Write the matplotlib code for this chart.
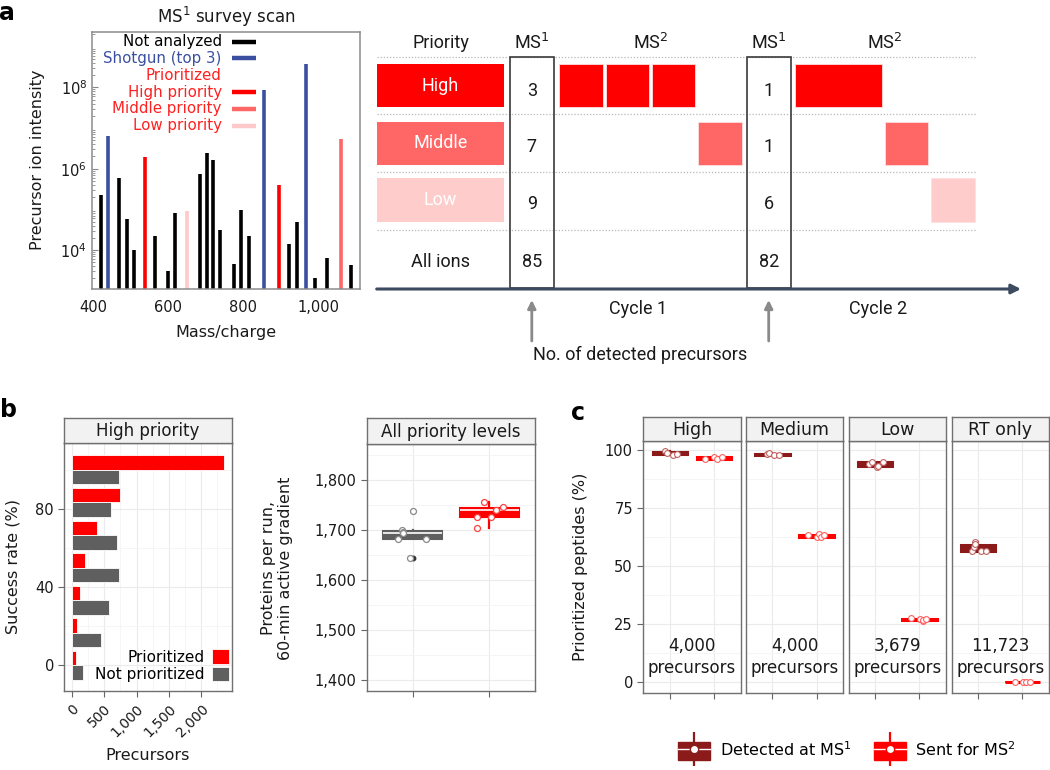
import numpy as np
import matplotlib
matplotlib.use('Agg')
import matplotlib.pyplot as plt
from matplotlib.patches import Rectangle, Patch
from matplotlib.lines import Line2D
from matplotlib.legend_handler import HandlerTuple
import matplotlib.ticker as mticker

plt.rcParams['font.family'] = ['DejaVu Sans']
plt.rcParams['mathtext.fontset'] = 'dejavusans'

# ---------------- data ----------------
# panel a (left): MS1 survey scan
ms1_mz = [420, 440, 470, 490, 510, 538, 566, 601, 618, 650, 685, 703, 721,
          738, 775, 795, 815, 857, 896, 923, 943, 967, 993, 1023, 1060, 1087]
ms1_intensity = [2.3e5, 6.5e6, 6e5, 5.8e4, 1e4, 1.9e6, 2.2e4, 3e3, 8e4, 9e4,
                 7.4e5, 2.4e6, 1.6e6, 3.1e4, 4.6e3, 9.6e4, 2.2e4, 8.8e7, 4e5,
                 1.4e4, 4.8e4, 3.8e8, 2e3, 6.5e3, 5.5e6, 4.3e3]
ms1_class = ['not', 'shotgun', 'not', 'not', 'not', 'high', 'not', 'not', 'not',
             'low', 'not', 'not', 'not', 'not', 'not', 'not', 'not', 'shotgun',
             'high', 'not', 'not', 'shotgun', 'not', 'not', 'middle', 'not']
ms1_legend_labels = ['Not analyzed', 'Shotgun (top 3)', 'Prioritized',
                     'High priority', 'Middle priority', 'Low priority']
ms1_legend_keys = ['not', 'shotgun', None, 'high', 'middle', 'low']
ms1_x_ticks = [400, 600, 800, 1000]
ms1_x_ticklabels = ['400', '600', '800', '1,000']

# panel a (right): acquisition schematic
priority_levels = ['High', 'Middle', 'Low']
cycle1_counts = [3, 7, 9, 85]
cycle2_counts = [1, 1, 6, 82]
cycle1_ms2 = [('High', 1), ('High', 1), ('High', 1), ('Middle', 1)]
cycle2_ms2 = [('High', 2), ('Middle', 1), ('Low', 1)]

# panel b (left): success rate
success_bins = [0, 16.67, 33.33, 50, 66.67, 83.33, 100]
prioritized_n = [62, 87, 129, 211, 391, 741, 2351]
not_prioritized_n = [179, 458, 581, 725, 694, 602, 725]
b_x_ticks = [0, 500, 1000, 1500, 2000]
b_x_ticklabels = ['0', '500', '1,000', '1,500', '2,000']

# panel b (right): proteins per run
proteins_not_prio = [1738, 1700, 1697, 1695, 1683, 1683, 1645]
proteins_not_prio_jit = [0.0, -0.145, -0.12, -0.13, -0.19, 0.18, -0.035]
proteins_prio = [1757, 1746, 1741, 1740, 1726, 1727, 1704]
proteins_prio_jit = [-0.07, 0.18, 0.09, 0.09, -0.16, 0.03, -0.155]
b2_y_ticks = [1400, 1500, 1600, 1700, 1800]
b2_y_ticklabels = ['1,400', '1,500', '1,600', '1,700', '1,800']

# panel c: prioritized peptides (%)
c_facets = ['High', 'Medium', 'Low', 'RT only']
c_counts = ['4,000', '4,000', '3,679', '11,723']
det_high = [99.4, 98.9, 98.0, 98.3]
det_high_jit = [-0.106, -0.06, 0.06, 0.167]
sent_high = [96.1, 97.1, 96.1, 97.2]
sent_high_jit = [-0.197, 0.0, 0.06, 0.167]
det_medium = [98.3, 98.9, 98.0, 98.0]
det_medium_jit = [-0.12, -0.076, 0.03, 0.15]
sent_medium = [63.2, 62.6, 63.8, 62.6, 63.2]
sent_medium_jit = [-0.19, 0.0, 0.06, 0.09, 0.17]
det_low = [94.0, 94.8, 92.5, 93.1, 94.8]
det_low_jit = [-0.136, -0.083, 0.045, 0.068, 0.167]
sent_low = [27.7, 27.3, 26.2, 26.7, 27.3]
sent_low_jit = [-0.197, 0.015, 0.076, 0.09, 0.15]
det_rt = [56.6, 58.3, 60.5, 59.4, 56.3, 56.6]
det_rt_jit = [-0.13, -0.106, -0.083, -0.068, 0.06, 0.174]
sent_rt = [0.1, 0.0, 0.2, 0.1]
sent_rt_jit = [-0.174, 0.015, 0.09, 0.167]
c_y_ticks = [0, 25, 50, 75, 100]

# ---------------- style ----------------
W, H = 1050, 770
fig = plt.figure(figsize=(10.5, 7.7), dpi=100)

COL = {'not': '#000000', 'shotgun': '#3a4f9f', 'high': '#ff0000',
       'middle': '#ff6666', 'low': '#ffc9c9'}
PRIO_COL = {'High': '#ff0000', 'Middle': '#ff6666', 'Low': '#ffcccc'}
RED = '#ff0000'
DARKRED = '#8b1a1a'
GREY = '#5f5f5f'
BORDER = '#707070'
TXT = '#1a1a1a'


def add_ax(x0, y0, x1, y1, **kw):
    return fig.add_axes([x0 / W, 1 - y1 / H, (x1 - x0) / W, (y1 - y0) / H], **kw)


def ftext(x, y, s, **kw):
    return fig.text(x / W, 1 - y / H, s, **kw)


def style_panel(ax):
    for s in ax.spines.values():
        s.set_color(BORDER)
        s.set_linewidth(1.0)
    ax.tick_params(which='major', direction='out', length=4, width=0.8,
                   color='#666666', labelsize=10, labelcolor=TXT)
    ax.tick_params(which='minor', length=0)
    ax.grid(True, which='major', color='#ebebeb', lw=0.8)
    ax.grid(True, which='minor', color='#f4f4f4', lw=0.6)
    ax.set_axisbelow(True)


def strip(x0, y0, x1, y1, label, size=12):
    s = add_ax(x0, y0, x1, y1)
    s.set_facecolor('#f2f2f2')
    s.set_xticks([])
    s.set_yticks([])
    for sp in s.spines.values():
        sp.set_color(BORDER)
        sp.set_linewidth(1.0)
    s.text(0.5, 0.47, label, ha='center', va='center', fontsize=size,
           color=TXT, transform=s.transAxes)
    return s


# ================= panel a left =================
ax = add_ax(92, 32, 360, 289)
ax.set_yscale('log')
ax.vlines(ms1_mz, 1, ms1_intensity, colors=[COL[c] for c in ms1_class], lw=2.6)
ax.set_xlim(397, 1112)
ax.set_ylim(1.1e3, 2.3e9)
ax.set_xticks(ms1_x_ticks)
ax.set_xticklabels(ms1_x_ticklabels)
ax.set_yticks([1e4, 1e6, 1e8])
ax.set_yticklabels(['$10^4$', '$10^6$', '$10^8$'])
ax.yaxis.set_minor_locator(mticker.LogLocator(base=10, subs=np.arange(2, 10), numticks=20))
ax.yaxis.set_minor_formatter(mticker.NullFormatter())
ax.tick_params(axis='y', which='major', direction='in', length=4, color='#888888',
               labelsize=10.5, labelcolor=TXT)
ax.tick_params(axis='y', which='minor', direction='in', length=2, color='#888888')
ax.tick_params(axis='x', which='major', direction='in', length=0, labelsize=10.5,
               labelcolor=TXT, pad=8)
for s in ax.spines.values():
    s.set_color('#8c8c8c')
    s.set_linewidth(1.1)
ax.text(0.5, 1 + 15 / 257, 'MS$^1$ survey scan', transform=ax.transAxes,
        ha='center', va='center', fontsize=12, color=TXT)
ftext(226, 333, 'Mass/charge', ha='center', va='center', fontsize=11.5, color=TXT)
ftext(38, 160, 'Precursor ion intensity', ha='center', va='center', rotation=90,
      fontsize=11.5, color=TXT)
# in-plot legend
for i, (lab, key) in enumerate(zip(ms1_legend_labels, ms1_legend_keys)):
    ypx = 41.7 + i * 16.8
    yf = (289 - ypx) / 257
    tcol = '#000000' if key == 'not' else ('#3a4f9f' if key == 'shotgun' else '#ff2020')
    ax.text((221.7 - 92) / 268, yf, lab, transform=ax.transAxes, ha='right',
            va='center', fontsize=10.8, color=tcol)
    if key is not None:
        ax.plot([(231.7 - 92) / 268, (256 - 92) / 268], [yf, yf], transform=ax.transAxes,
                color=COL[key], lw=3.2, solid_capstyle='butt')

# ================= panel a right (schematic) =================
sc = add_ax(360, 30, 1050, 370)
sc.set_xlim(360, 1050)
sc.set_ylim(370, 30)
sc.axis('off')
SF = 'Roboto'
row_top = [64.0, 121.7, 178.3]
row_h = 43.3
for y in [56.5, 114.3, 172.0, 229.5]:
    sc.plot([376.7, 976.7], [y, y], color='#b8b8b8', lw=0.9, ls=(0, (1, 1.5)))
for name, yt in zip(priority_levels, row_top):
    sc.add_patch(Rectangle((376.7, yt), 126.9, row_h, fc=PRIO_COL[name], ec='none'))
    sc.text(440.2, yt + row_h / 2, name, ha='center', va='center', color='white',
            fontsize=13, family=SF)
sc.text(440.6, 262, 'All ions', ha='center', va='center', fontsize=13, family=SF, color=TXT)
sc.text(440.6, 43, 'Priority', ha='center', va='center', fontsize=13, family=SF, color=TXT)
count_y = [90.7, 147.3, 204.0, 261.7]
box_w, gap = 43.4, 3.0
for col_x, counts, scans, ms2_x in [(509.8, cycle1_counts, cycle1_ms2, 559.1),
                                     (746.7, cycle2_counts, cycle2_ms2, 795.3)]:
    sc.add_patch(Rectangle((col_x, 56.7), 44, 231.6, fc='none', ec='#3a3a3a', lw=1.2, zorder=3))
    sc.text(col_x + 22, 43, 'MS$^1$', ha='center', va='center', fontsize=13, family=SF, color=TXT)
    for c, y in zip(counts, count_y):
        sc.text(col_x + 22, y, str(c), ha='center', va='center', fontsize=13,
                family=SF, color=TXT)
    x = ms2_x
    start = x
    for name, nslots in scans:
        r = priority_levels.index(name)
        w = box_w * nslots
        sc.add_patch(Rectangle((x, row_top[r]), w, row_h, fc=PRIO_COL[name],
                               ec='#ffdede', lw=0.6))
        x += w + gap
    sc.text((start + x - gap) / 2, 43, 'MS$^2$', ha='center', va='center', fontsize=13,
            family=SF, color=TXT)
sc.annotate('', xy=(1021, 289), xytext=(376.7, 289),
            arrowprops=dict(arrowstyle='-|>', color='#3d4b60', lw=2.2,
                            mutation_scale=14, shrinkA=0, shrinkB=0), zorder=4)
sc.text(638, 309.3, 'Cycle 1', ha='center', va='center', fontsize=13, family=SF, color=TXT)
sc.text(878.3, 309.3, 'Cycle 2', ha='center', va='center', fontsize=13, family=SF, color=TXT)
for xa in [531.8, 768.7]:
    sc.annotate('', xy=(xa, 300), xytext=(xa, 341),
                arrowprops=dict(arrowstyle='-|>', color='#8a8a8a', lw=2,
                                mutation_scale=12, shrinkA=0, shrinkB=0))
sc.text(639.7, 355, 'No. of detected precursors', ha='center', va='center',
        fontsize=13, family=SF, color=TXT)

# ================= panel b left =================
bx = add_ax(64.3, 443.3, 231.7, 691)
strip(64.3, 417.7, 231.7, 443.3, 'High priority', 12)
style_panel(bx)
yb = np.array(success_bins)
bh = 7.4
bx.barh(yb + bh / 2, prioritized_n, height=bh, color=RED, ec='white', lw=0.6,
        label='Prioritized')
bx.barh(yb - bh / 2, not_prioritized_n, height=bh, color=GREY, ec='white', lw=0.6,
        label='Not prioritized')
bx.set_xlim(-115, 2470)
bx.set_ylim(-13.1, 113.6)
bx.set_yticks([0, 40, 80])
bx.set_yticks([20, 60, 100], minor=True)
bx.set_xticks(b_x_ticks)
bx.set_xticklabels(b_x_ticklabels, rotation=45, ha='right', rotation_mode='anchor')
bx.set_xticks([250, 750, 1250, 1750, 2250], minor=True)
bx.tick_params(axis='x', pad=4)
bx.tick_params(axis='y', labelsize=10.5)
bx.legend(loc='lower right', bbox_to_anchor=(0.985, 0.035), frameon=False,
          markerfirst=False, fontsize=11, handlelength=1.1, handleheight=1.1,
          handletextpad=0.5, labelspacing=0.15, borderaxespad=0, borderpad=0)
ftext(148, 755, 'Precursors', ha='center', va='center', fontsize=11.5, color=TXT)
ftext(13, 567, 'Success rate (%)', ha='center', va='center', rotation=90,
      fontsize=11.5, color=TXT)

# ================= panel b right =================
px = add_ax(366.7, 444, 535, 691)
strip(366.7, 417.7, 535, 444, 'All priority levels', 12)
style_panel(px)
for pos, vals, jit, col, ptcol in [(1, proteins_not_prio, proteins_not_prio_jit, GREY, '#8a8a8a'),
                                   (2, proteins_prio, proteins_prio_jit, RED, '#ff4040')]:
    bp = px.boxplot([vals], positions=[pos], widths=0.77, patch_artist=True,
                    showcaps=False, manage_ticks=False, zorder=3,
                    boxprops=dict(facecolor=col, edgecolor=col, lw=1.5),
                    medianprops=dict(color='white', lw=1.2),
                    whiskerprops=dict(color=col, lw=1.6),
                    flierprops=dict(marker='o', ms=3.2, mfc='#333333', mec='#333333'))
    for b in bp['boxes']:
        b.set_facecolor(col)
        b.set_edgecolor(col)
    px.plot(pos + np.array(jit), vals, 'o', ms=4.3, mfc='white', mec=ptcol, mew=0.9, zorder=5)
px.set_xlim(0.4, 2.6)
px.set_ylim(1378.6, 1872)
px.set_xticks([1, 2])
px.set_xticklabels([])
px.set_yticks(b2_y_ticks)
px.set_yticklabels(b2_y_ticklabels)
px.set_yticks([1450, 1550, 1650, 1750, 1850], minor=True)
px.tick_params(axis='y', labelsize=10.5)
ftext(277, 568, 'Proteins per run,\n60-min active gradient', ha='center', va='center',
      rotation=90, fontsize=11.5, color=TXT, linespacing=1.15)

# ================= panel c =================
c_x = [(643.3, 740.7), (745.7, 843.3), (848.7, 946.0), (951.7, 1049.0)]
det_sets = [(det_high, det_high_jit), (det_medium, det_medium_jit),
            (det_low, det_low_jit), (det_rt, det_rt_jit)]
sent_sets = [(sent_high, sent_high_jit), (sent_medium, sent_medium_jit),
             (sent_low, sent_low_jit), (sent_rt, sent_rt_jit)]
for i, (facet, (x0, x1)) in enumerate(zip(c_facets, c_x)):
    cx = add_ax(x0, 441, x1, 693.3)
    strip(x0, 416.7, x1, 441, facet, 12.5)
    style_panel(cx)
    for pos, (vals, jit), col, ptcol in [(1, det_sets[i], DARKRED, '#c06060'),
                                         (2, sent_sets[i], RED, '#ff6060')]:
        cx.boxplot([vals], positions=[pos], widths=0.78, patch_artist=True,
                   showcaps=False, showfliers=False, manage_ticks=False,
                   boxprops=dict(facecolor=col, edgecolor=col, lw=2.2),
                   medianprops=dict(color=col, lw=1.2),
                   whiskerprops=dict(color=col, lw=1.6))
        cx.plot(pos + np.array(jit), vals, 'o', ms=4.2, mfc='white', mec=ptcol,
                mew=0.8, zorder=5)
    cx.set_xlim(0.4, 2.6)
    cx.set_ylim(-4.87, 103.9)
    cx.set_xticks([1, 2])
    cx.set_xticklabels([])
    cx.set_yticks(c_y_ticks)
    cx.set_yticks([12.5, 37.5, 62.5, 87.5], minor=True)
    cx.tick_params(axis='y', labelsize=10.5)
    if i > 0:
        cx.tick_params(axis='y', length=0, labelleft=False)
    cx.text(1.5, 10.8, c_counts[i] + '\nprecursors', ha='center', va='center',
            fontsize=12, color=TXT, linespacing=1.25)
ftext(580, 567, 'Prioritized peptides (%)', ha='center', va='center', rotation=90,
      fontsize=11.5, color=TXT)


def key(col):
    return (Line2D([], [], marker='|', ms=24, mew=1.6, color=col, ls=''),
            Patch(fc=col, ec=col),
            Line2D([], [], ls='-', lw=1.0, color='white'),
            Line2D([], [], marker='o', ms=6, mfc='white', mec=col, mew=1.0, ls=''))


fig.legend([key(DARKRED), key(RED)], ['Detected at MS$^1$', 'Sent for MS$^2$'],
           handler_map={tuple: HandlerTuple(ndivide=1, pad=0)}, loc='center',
           bbox_to_anchor=(847 / W, 1 - 750 / H), ncol=2, frameon=False,
           fontsize=11.5, handlelength=2.0, handleheight=1.3, columnspacing=1.4,
           handletextpad=0.6)

# panel letters
ftext(7, 13, 'a', ha='center', va='center', fontsize=17, fontweight='bold')
ftext(8, 410, 'b', ha='center', va='center', fontsize=17, fontweight='bold')
ftext(578, 413, 'c', ha='center', va='center', fontsize=17, fontweight='bold')

fig.savefig('out.png', dpi=100)
